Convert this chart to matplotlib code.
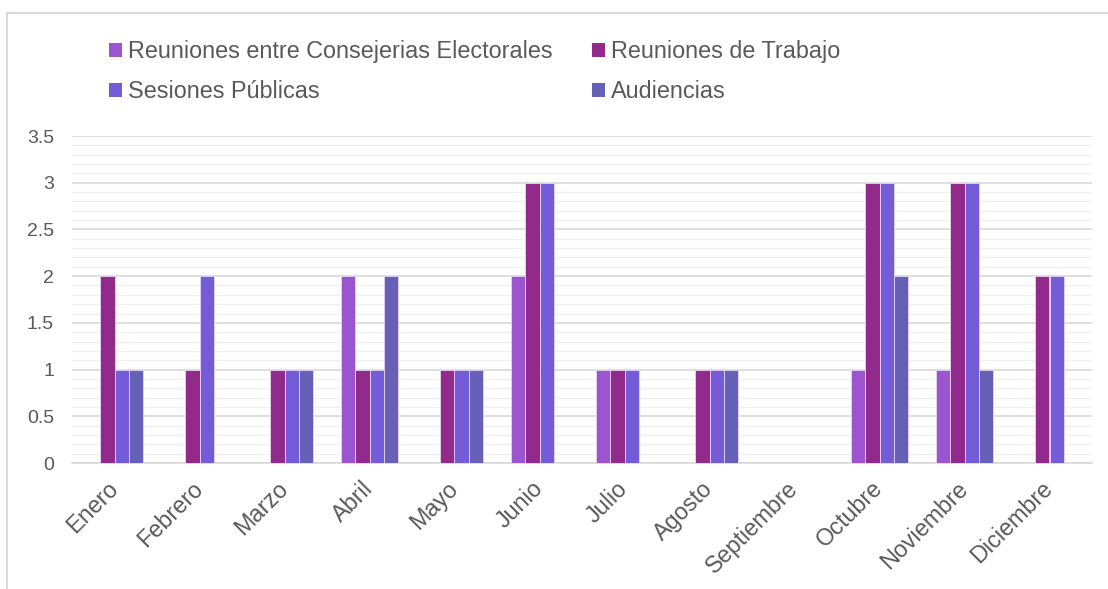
import numpy as np
import matplotlib.pyplot as plt
from matplotlib.patches import Rectangle, Patch
from matplotlib.ticker import MultipleLocator
from matplotlib.transforms import ScaledTranslation

plt.rcParams['font.family'] = ['Liberation Sans', 'DejaVu Sans']

meses = ['Enero', 'Febrero', 'Marzo', 'Abril', 'Mayo', 'Junio', 'Julio',
         'Agosto', 'Septiembre', 'Octubre', 'Noviembre', 'Diciembre']
series = ['Reuniones entre Consejerias Electorales', 'Reuniones de Trabajo',
          'Sesiones Públicas', 'Audiencias']
consejerias = [0, 0, 0, 2, 0, 2, 1, 0, 0, 1, 1, 0]
trabajo = [2, 1, 1, 1, 1, 3, 1, 1, 0, 3, 3, 2]
sesiones = [1, 2, 1, 1, 1, 3, 1, 1, 0, 3, 3, 2]
audiencias = [1, 0, 1, 2, 1, 0, 0, 1, 0, 2, 1, 0]
colores = ['#9B55CF', '#922A8C', '#745BD8', '#6660B6']

valores = [consejerias, trabajo, sesiones, audiencias]

fig = plt.figure(figsize=(11.08, 5.89), dpi=100)
# chart frame
fig.patches.append(Rectangle((7 / 1108, -0.1), 1.2, 1 - 13 / 589 + 0.1,
                             transform=fig.transFigure, fill=False,
                             edgecolor='#D9D9D9', linewidth=1.5))

ax = fig.add_axes([72 / 1108, 1 - 463 / 589, 1020 / 1108, 327 / 589])

x = np.arange(len(meses))
w = 0.165
for i, (vals, c) in enumerate(zip(valores, colores)):
    ax.bar(x + (i - 1.5) * w, vals, width=w, color=c,
           edgecolor='#E6D6F2', linewidth=0.6, zorder=3)

ax.set_xlim(-0.5, len(meses) - 0.5)
ax.set_ylim(0, 3.5)
ax.yaxis.set_minor_locator(MultipleLocator(0.1))
ax.set_yticks([0, 0.5, 1, 1.5, 2, 2.5, 3, 3.5])
ax.set_yticklabels(['0', '0.5', '1', '1.5', '2', '2.5', '3', '3.5'])
ax.grid(axis='y', which='major', color='#D9D9D9', linewidth=1.2, zorder=0)
ax.grid(axis='y', which='minor', color='#F0F0F0', linewidth=1.0, zorder=0)
for s in ['top', 'right', 'left']:
    ax.spines[s].set_visible(False)
ax.spines['bottom'].set_color('#D9D9D9')
ax.spines['bottom'].set_linewidth(1.2)
ax.tick_params(axis='both', which='both', length=0, colors='#595959')
ax.tick_params(axis='y', pad=13, labelsize=14)
ax.tick_params(axis='x', pad=10, labelsize=16.8)
ax.set_xticks(x)
ax.set_xticklabels(meses, rotation=45, ha='right', rotation_mode='anchor')
desplazar = ScaledTranslation(-6 / 72, 0, fig.dpi_scale_trans)
for lbl in ax.get_xticklabels():
    lbl.set_transform(lbl.get_transform() + desplazar)

# legend filled row by row, as in the reference
orden = [0, 2, 1, 3]
handles = [Patch(facecolor=colores[k], edgecolor='none') for k in orden]
fig.legend(handles, [series[k] for k in orden], ncol=2, loc='upper left',
           bbox_to_anchor=(88 / 1108, 1 - 19 / 589), frameon=False,
           fontsize=16.8, labelcolor='#595959', handlelength=0.55,
           handleheight=0.55, handletextpad=0.25, columnspacing=1.7,
           labelspacing=0.72)

fig.savefig('out.png', dpi=100)
